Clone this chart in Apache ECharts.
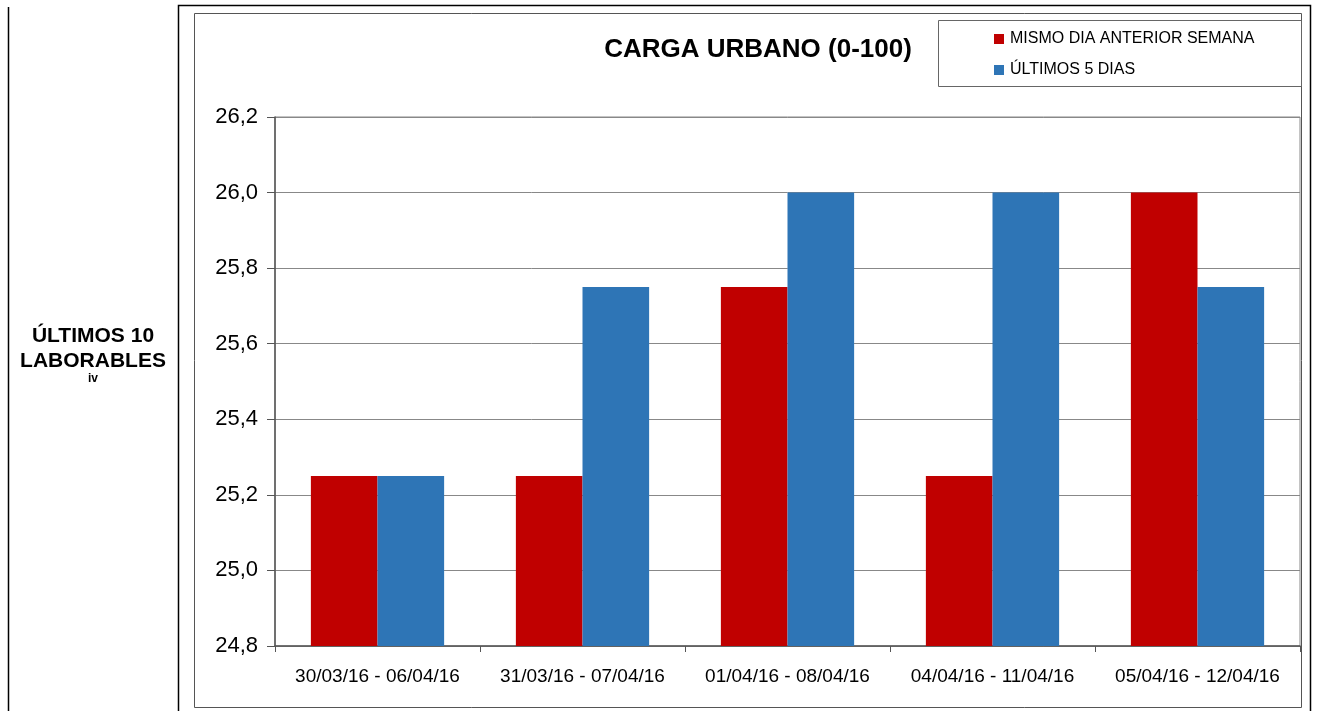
<!DOCTYPE html>
<html>
<head>
<meta charset="utf-8">
<script src="https://cdn.jsdelivr.net/npm/echarts@6/dist/echarts.min.js"></script>
<style>
  html, body { margin: 0; padding: 0; background: #fff; }
  #chart { width: 1321px; height: 711px; }
</style>
</head>
<body>
<div id="chart"></div>
<script>
var categories = ['30/03/16 - 06/04/16', '31/03/16 - 07/04/16', '01/04/16 - 08/04/16', '04/04/16 - 11/04/16', '05/04/16 - 12/04/16'];
var mismoDia = [25.25, 25.25, 25.75, 25.25, 26.0];
var ultimos5 = [25.25, 25.75, 26.0, 26.0, 25.75];
var seriesNames = ['MISMO DIA ANTERIOR SEMANA', 'ÚLTIMOS 5 DIAS'];

var red = '#c00000';
var blue = '#2e75b6';
var font = 'Liberation Sans, Arial, sans-serif';

var chart = echarts.init(document.getElementById('chart'), null, { renderer: 'canvas' });

chart.setOption({
  backgroundColor: '#fff',
  animation: false,
  textStyle: { fontFamily: font },
  title: {
    text: 'CARGA URBANO (0-100)',
    left: 753,
    top: 32,
    textAlign: 'center',
    textStyle: { fontSize: 26, fontWeight: 'bold', color: '#000', fontFamily: font }
  },
  legend: {
    data: seriesNames,
    orient: 'vertical',
    left: 989,
    top: 26,
    itemWidth: 10,
    itemHeight: 10,
    itemGap: 15,
    icon: 'rect',
    textStyle: { fontSize: 16, color: '#000', fontFamily: font, padding: [0, 0, 0, 1] }
  },
  graphic: [
    { type: 'line', shape: { x1: 8.5, y1: 7, x2: 8.5, y2: 711 }, style: { stroke: '#000', lineWidth: 1.5 } },
    { type: 'polyline', shape: { points: [[178.5, 711], [178.5, 5.5], [1310.5, 5.5], [1310.5, 711]] }, style: { stroke: '#000', lineWidth: 1.5, fill: null } },
    { type: 'rect', shape: { x: 194.5, y: 13.5, width: 1107, height: 694 }, style: { stroke: '#555', lineWidth: 1, fill: null } },
    { type: 'rect', shape: { x: 938.5, y: 20.5, width: 363, height: 66 }, style: { stroke: '#666', lineWidth: 1, fill: null } },
    { type: 'text', x: 93, y: 326, style: { text: 'ÚLTIMOS 10', font: 'bold 21px ' + font, fill: '#000', align: 'center' } },
    { type: 'text', x: 93, y: 351, style: { text: 'LABORABLES', font: 'bold 21px ' + font, fill: '#000', align: 'center' } },
    { type: 'text', x: 93, y: 373, style: { text: 'iv', font: 'bold 12px ' + font, fill: '#000', align: 'center' } }
  ],
  grid: {
    left: 275,
    right: 21,
    top: 117,
    bottom: 65,
    show: true,
    borderColor: '#888',
    borderWidth: 1,
    containLabel: false
  },
  xAxis: {
    type: 'category',
    data: categories,
    axisLine: { lineStyle: { color: '#555', width: 1.5 } },
    axisTick: { show: true, interval: 0, length: 6, lineStyle: { color: '#555' } },
    axisLabel: { interval: 0, fontSize: 19, color: '#000', margin: 21, fontFamily: font }
  },
  yAxis: {
    type: 'value',
    min: 24.8,
    max: 26.2,
    interval: 0.2,
    axisLine: { show: true, lineStyle: { color: '#555', width: 1.5 } },
    axisTick: { show: true, length: 8, lineStyle: { color: '#555' } },
    axisLabel: {
      fontSize: 22,
      color: '#000',
      margin: 17,
      fontFamily: font,
      formatter: function (v) { return v.toFixed(1).replace('.', ','); }
    },
    splitLine: { lineStyle: { color: '#888', width: 1 } }
  },
  series: [
    {
      name: seriesNames[0],
      type: 'bar',
      data: mismoDia,
      itemStyle: { color: red },
      barGap: '0%',
      barCategoryGap: '35%'
    },
    {
      name: seriesNames[1],
      type: 'bar',
      data: ultimos5,
      itemStyle: { color: blue },
      barGap: '0%',
      barCategoryGap: '35%'
    }
  ]
});

window.addEventListener('resize', function () { chart.resize(); });
</script>
</body>
</html>
